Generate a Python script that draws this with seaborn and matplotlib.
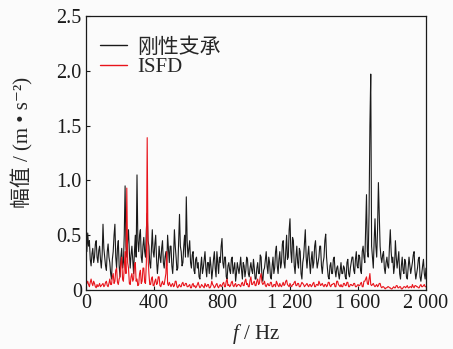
import numpy as np
import pandas as pd
import matplotlib
matplotlib.use("Agg")
import matplotlib.pyplot as plt
import seaborn as sns

# Amplitude spectrum, rigid support (m/s^2), 5 Hz resolution from 0 to 2000 Hz
rigid = [
    0.48, 0.35, 0.52, 0.40, 0.45, 0.28, 0.22, 0.33, 0.38, 0.25, 0.30, 0.42, 0.45, 0.30, 0.25, 0.36, 0.40, 0.28, 0.20, 0.32,
    0.60, 0.38, 0.30, 0.22, 0.18, 0.35, 0.42, 0.30, 0.25, 0.15, 0.10, 0.28, 0.35, 0.50, 0.60, 0.30, 0.20, 0.38, 0.45, 0.22,
    0.12, 0.30, 0.38, 0.20, 0.25, 0.50, 0.95, 0.40, 0.30, 0.45, 0.55, 0.35, 0.20, 0.32, 0.40, 0.28, 0.15, 0.35, 0.50, 0.30,
    1.05, 0.45, 0.35, 0.50, 0.55, 0.30, 0.25, 0.40, 0.48, 0.35, 0.30, 0.55, 0.70, 0.45, 0.40, 0.25, 0.20, 0.38, 0.55, 0.35,
    0.30, 0.42, 0.50, 0.28, 0.15, 0.25, 0.40, 0.30, 0.25, 0.38, 0.45, 0.25, 0.20, 0.30, 0.35, 0.22, 0.50, 0.38, 0.25, 0.40,
    0.40, 0.22, 0.15, 0.30, 0.55, 0.40, 0.30, 0.18, 0.20, 0.45, 0.69, 0.40, 0.35, 0.22, 0.25, 0.40, 0.50, 0.30, 0.85, 0.45,
    0.30, 0.38, 0.45, 0.25, 0.20, 0.32, 0.35, 0.18, 0.15, 0.28, 0.30, 0.20, 0.25, 0.12, 0.10, 0.22, 0.30, 0.15, 0.20, 0.28,
    0.35, 0.20, 0.12, 0.25, 0.25, 0.15, 0.30, 0.22, 0.10, 0.18, 0.28, 0.35, 0.20, 0.12, 0.35, 0.25, 0.15, 0.30, 0.25, 0.40,
    0.47, 0.25, 0.20, 0.30, 0.30, 0.12, 0.10, 0.22, 0.25, 0.18, 0.15, 0.28, 0.30, 0.15, 0.20, 0.25, 0.08, 0.15, 0.25, 0.20,
    0.15, 0.22, 0.30, 0.18, 0.10, 0.25, 0.22, 0.12, 0.18, 0.30, 0.28, 0.15, 0.12, 0.20, 0.25, 0.18, 0.15, 0.28, 0.20, 0.10,
    0.10, 0.20, 0.25, 0.15, 0.15, 0.32, 0.30, 0.12, 0.08, 0.18, 0.20, 0.28, 0.35, 0.22, 0.15, 0.30, 0.25, 0.12, 0.10, 0.22,
    0.30, 0.15, 0.20, 0.35, 0.40, 0.22, 0.15, 0.28, 0.35, 0.20, 0.25, 0.42, 0.45, 0.25, 0.20, 0.35, 0.50, 0.28, 0.30, 0.55,
    0.65, 0.35, 0.25, 0.48, 0.45, 0.22, 0.15, 0.30, 0.40, 0.25, 0.20, 0.38, 0.35, 0.15, 0.10, 0.25, 0.30, 0.42, 0.55, 0.30,
    0.20, 0.32, 0.40, 0.25, 0.15, 0.28, 0.35, 0.20, 0.25, 0.40, 0.45, 0.30, 0.20, 0.25, 0.30, 0.40, 0.40, 0.22, 0.15, 0.25,
    0.30, 0.45, 0.51, 0.30, 0.20, 0.12, 0.10, 0.22, 0.25, 0.15, 0.15, 0.28, 0.30, 0.18, 0.12, 0.20, 0.22, 0.15, 0.10, 0.18,
    0.25, 0.15, 0.15, 0.22, 0.20, 0.12, 0.10, 0.25, 0.28, 0.15, 0.12, 0.20, 0.25, 0.30, 0.30, 0.18, 0.15, 0.28, 0.35, 0.22,
    0.20, 0.32, 0.30, 0.18, 0.15, 0.35, 0.40, 0.30, 0.25, 0.55, 0.87, 0.35, 0.30, 0.70, 1.50, 1.97, 0.40, 0.30, 0.20, 0.45,
    0.65, 0.40, 0.30, 0.55, 0.98, 0.70, 0.40, 0.30, 0.25, 0.32, 0.35, 0.20, 0.15, 0.25, 0.30, 0.22, 0.20, 0.40, 0.55, 0.35,
    0.25, 0.30, 0.15, 0.22, 0.45, 0.30, 0.20, 0.28, 0.35, 0.15, 0.10, 0.22, 0.30, 0.18, 0.15, 0.28, 0.25, 0.12, 0.10, 0.20,
    0.30, 0.22, 0.15, 0.20, 0.25, 0.32, 0.35, 0.18, 0.10, 0.15, 0.20, 0.28, 0.30, 0.12, 0.08, 0.15, 0.22, 0.28, 0.15, 0.10,
    0.20,
]

# Amplitude spectrum, ISFD support (m/s^2), same frequency grid
isfd = [
    0.04, 0.06, 0.08, 0.05, 0.03, 0.07, 0.10, 0.06, 0.04, 0.08, 0.06, 0.03, 0.02, 0.05, 0.03, 0.04, 0.06, 0.03, 0.04, 0.05,
    0.06, 0.03, 0.04, 0.07, 0.08, 0.04, 0.03, 0.06, 0.10, 0.05, 0.05, 0.12, 0.15, 0.06, 0.08, 0.18, 0.20, 0.07, 0.05, 0.10,
    0.12, 0.25, 0.30, 0.10, 0.08, 0.20, 0.35, 0.15, 0.93, 0.25, 0.20, 0.06, 0.05, 0.12, 0.15, 0.08, 0.10, 0.22, 0.25, 0.08,
    0.10, 0.04, 0.05, 0.15, 0.18, 0.06, 0.08, 0.20, 0.20, 0.07, 0.06, 0.25, 1.39, 0.30, 0.15, 0.05, 0.05, 0.10, 0.12, 0.04,
    0.04, 0.08, 0.10, 0.05, 0.06, 0.12, 0.12, 0.04, 0.03, 0.06, 0.08, 0.05, 0.05, 0.10, 0.15, 0.35, 0.06, 0.04, 0.07, 0.05,
    0.03, 0.05, 0.06, 0.03, 0.04, 0.08, 0.08, 0.03, 0.02, 0.04, 0.05, 0.03, 0.03, 0.06, 0.07, 0.04, 0.04, 0.06, 0.06, 0.03,
    0.03, 0.04, 0.05, 0.02, 0.02, 0.05, 0.06, 0.03, 0.04, 0.02, 0.03, 0.05, 0.07, 0.04, 0.02, 0.03, 0.05, 0.04, 0.03, 0.02,
    0.06, 0.04, 0.03, 0.05, 0.05, 0.02, 0.02, 0.04, 0.08, 0.05, 0.04, 0.02, 0.03, 0.05, 0.06, 0.03, 0.02, 0.04, 0.05, 0.03,
    0.04, 0.06, 0.07, 0.03, 0.03, 0.08, 0.10, 0.04, 0.05, 0.03, 0.04, 0.07, 0.08, 0.04, 0.03, 0.05, 0.06, 0.03, 0.04, 0.05,
    0.05, 0.04, 0.03, 0.06, 0.07, 0.04, 0.04, 0.08, 0.10, 0.05, 0.06, 0.03, 0.03, 0.09, 0.12, 0.05, 0.05, 0.07, 0.08, 0.04,
    0.04, 0.08, 0.10, 0.05, 0.06, 0.12, 0.15, 0.07, 0.05, 0.06, 0.08, 0.04, 0.03, 0.05, 0.06, 0.04, 0.04, 0.07, 0.07, 0.03,
    0.03, 0.05, 0.05, 0.03, 0.08, 0.06, 0.04, 0.03, 0.06, 0.04, 0.03, 0.05, 0.07, 0.04, 0.05, 0.08, 0.09, 0.05, 0.04, 0.03,
    0.06, 0.04, 0.03, 0.05, 0.05, 0.07, 0.08, 0.04, 0.04, 0.06, 0.06, 0.03, 0.03, 0.05, 0.07, 0.06, 0.05, 0.03, 0.04, 0.05,
    0.06, 0.04, 0.03, 0.05, 0.05, 0.03, 0.04, 0.06, 0.07, 0.03, 0.03, 0.05, 0.05, 0.04, 0.08, 0.06, 0.04, 0.05, 0.06, 0.04,
    0.03, 0.05, 0.05, 0.03, 0.04, 0.07, 0.07, 0.04, 0.03, 0.05, 0.05, 0.06, 0.06, 0.03, 0.03, 0.08, 0.08, 0.05, 0.04, 0.03,
    0.05, 0.03, 0.03, 0.06, 0.06, 0.04, 0.04, 0.07, 0.07, 0.03, 0.03, 0.05, 0.05, 0.04, 0.04, 0.06, 0.06, 0.03, 0.03, 0.04,
    0.05, 0.04, 0.04, 0.06, 0.07, 0.03, 0.03, 0.08, 0.08, 0.10, 0.12, 0.06, 0.05, 0.10, 0.15, 0.05, 0.04, 0.05, 0.06, 0.04,
    0.03, 0.04, 0.05, 0.03, 0.04, 0.06, 0.06, 0.03, 0.02, 0.03, 0.03, 0.02, 0.01, 0.02, 0.02, 0.03, 0.03, 0.02, 0.02, 0.01,
    0.01, 0.02, 0.03, 0.02, 0.02, 0.04, 0.04, 0.02, 0.02, 0.03, 0.03, 0.01, 0.01, 0.02, 0.03, 0.03, 0.02, 0.03, 0.04, 0.02,
    0.02, 0.03, 0.03, 0.02, 0.05, 0.03, 0.02, 0.04, 0.04, 0.03, 0.03, 0.02, 0.02, 0.04, 0.05, 0.03, 0.03, 0.04, 0.05, 0.03,
    0.03,
]

# Frequency axis (Hz)
freq = list(range(0, 2001, 5))

series_names = ["刚性支承", "ISFD"]
x_ticks = [0, 400, 800, 1200, 1600, 2000]
x_tick_labels = ["0", "400", "800", "1 200", "1 600", "2 000"]
y_ticks = [0, 0.5, 1.0, 1.5, 2.0, 2.5]
y_tick_labels = ["0", "0.5", "1.0", "1.5", "2.0", "2.5"]

df = pd.DataFrame({
    "freq": freq * 2,
    "amp": rigid + isfd,
    "series": [series_names[0]] * len(freq) + [series_names[1]] * len(freq),
})

sns.set_style("ticks")
plt.rcParams["font.family"] = ["Liberation Serif", "Noto Sans CJK SC", "DejaVu Sans"]
plt.rcParams["mathtext.fontset"] = "custom"
plt.rcParams["mathtext.rm"] = "Liberation Serif"
plt.rcParams["mathtext.it"] = "Liberation Serif:italic"

bg = "#fbfbfb"
fig = plt.figure(figsize=(4.53, 3.49), dpi=100, facecolor=bg)
ax = fig.add_axes([86 / 453, 1 - 290 / 349, 340 / 453, 274 / 349])
ax.set_facecolor(bg)

sns.lineplot(data=df, x="freq", y="amp", hue="series",
             palette={series_names[0]: "#1a1a1a", series_names[1]: "#e8141b"},
             linewidth=0.8, ax=ax, estimator=None, sort=False)

ax.set_xlim(0, 2000)
ax.set_ylim(0, 2.5)
ax.set_xticks(x_ticks)
ax.set_xticklabels(x_tick_labels)
ax.set_yticks(y_ticks)
ax.set_yticklabels(y_tick_labels)
ax.tick_params(direction="in", length=3, width=0.8, labelsize=14.5, pad=3,
               colors="#1a1a1a")
for sp in ax.spines.values():
    sp.set_linewidth(0.9)
    sp.set_color("#1a1a1a")

ax.set_xlabel("$f$ / Hz", fontsize=15, labelpad=6)
ax.set_ylabel("幅值 / (m • s⁻²)", fontsize=15)
ax.yaxis.set_label_coords(-0.155, 0.54)

leg = ax.legend(loc="upper left", bbox_to_anchor=(0.017, 0.95),
                frameon=False, fontsize=15,
                handlelength=1.3, handletextpad=0.5, labelspacing=0.0,
                borderaxespad=0.0, borderpad=0.4)
for line in leg.get_lines():
    line.set_linewidth(1.0)

fig.savefig("out.png", dpi=100, facecolor=fig.get_facecolor())
